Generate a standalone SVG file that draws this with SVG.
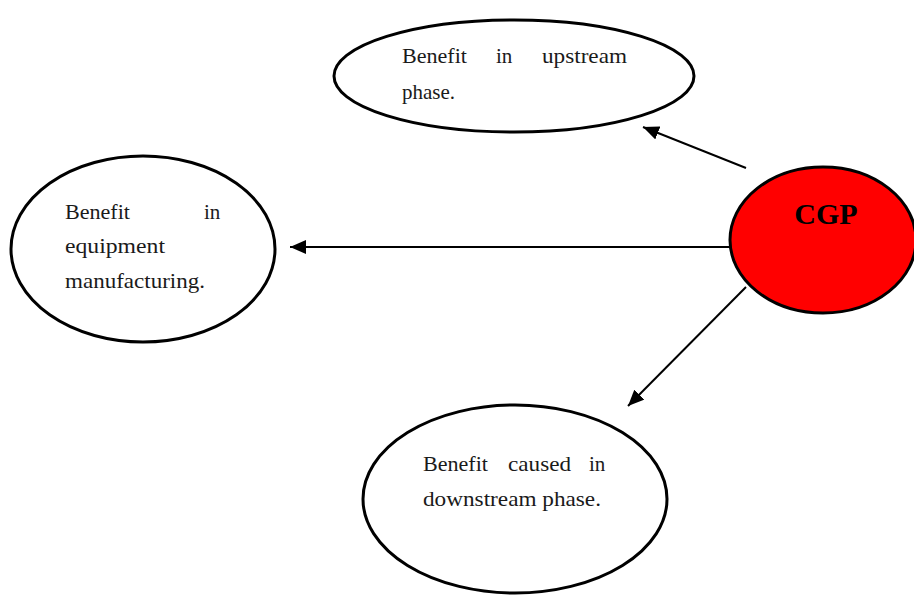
<svg xmlns="http://www.w3.org/2000/svg" width="914" height="596" viewBox="0 0 914 596">
<style>
.node{fill:#fff;stroke:#000;stroke-width:3}
.t{font-family:"Liberation Serif",serif;font-size:21px;fill:#1a1a1a}
.conn{stroke:#000;stroke-width:2;fill:none}
</style>
<defs>
<marker id="ah" markerUnits="userSpaceOnUse" markerWidth="18" markerHeight="14" refX="16" refY="7" orient="auto">
<path d="M0,0 L16,7 L0,14 Z" fill="#000"/>
</marker>
</defs>
<rect width="914" height="596" fill="#fff"/>
<g id="connectors">
<line class="conn" x1="746" y1="168" x2="643" y2="127" marker-end="url(#ah)"/>
<line class="conn" x1="730" y1="247" x2="290" y2="247" marker-end="url(#ah)"/>
<line class="conn" x1="746" y1="287" x2="628" y2="406" marker-end="url(#ah)"/>
</g>
<g id="upstream">
<ellipse class="node" cx="514" cy="76" rx="180" ry="56"/>
<text class="t" x="402" y="63" textLength="65" lengthAdjust="spacingAndGlyphs">Benefit</text>
<text class="t" x="496" y="63">in</text>
<text class="t" x="542" y="63" textLength="85" lengthAdjust="spacingAndGlyphs">upstream</text>
<text class="t" x="402" y="99">phase.</text>
</g>
<g id="equipment">
<ellipse class="node" cx="143" cy="249" rx="132" ry="93"/>
<text class="t" x="65" y="219" textLength="65" lengthAdjust="spacingAndGlyphs">Benefit</text>
<text class="t" x="204" y="219">in</text>
<text class="t" x="65" y="253" textLength="100" lengthAdjust="spacingAndGlyphs">equipment</text>
<text class="t" x="65" y="288" textLength="140" lengthAdjust="spacingAndGlyphs">manufacturing.</text>
</g>
<g id="downstream">
<ellipse class="node" cx="515" cy="499" rx="152" ry="94"/>
<text class="t" x="423" y="471" textLength="65" lengthAdjust="spacingAndGlyphs">Benefit</text>
<text class="t" x="508" y="471" textLength="63" lengthAdjust="spacingAndGlyphs">caused</text>
<text class="t" x="589" y="471">in</text>
<text class="t" x="423" y="506" textLength="178" lengthAdjust="spacingAndGlyphs">downstream phase.</text>
</g>
<g id="cgp">
<ellipse cx="823" cy="240" rx="93" ry="73" fill="#ff0000" stroke="#000" stroke-width="3"/>
<text x="826" y="224" text-anchor="middle" font-family="Liberation Serif,serif" font-weight="bold" font-size="30">CGP</text>
</g>
</svg>
